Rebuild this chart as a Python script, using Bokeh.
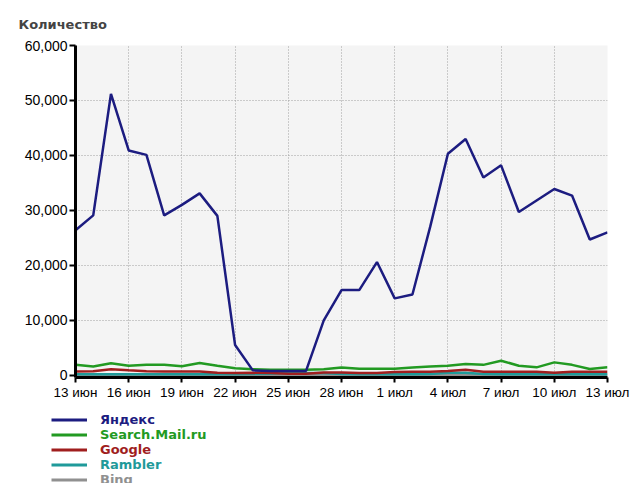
from bokeh.plotting import figure
from bokeh.layouts import column
from bokeh.models import Range1d, FixedTicker, NumeralTickFormatter, Legend, LegendItem
from bokeh.embed import file_html
from bokeh.resources import INLINE

# ---- data ----
tick_days = [0, 3, 6, 9, 12, 15, 18, 21, 24, 27, 30]
tick_labels = ["13 июн", "16 июн", "19 июн", "22 июн", "25 июн", "28 июн",
               "1 июл", "4 июл", "7 июл", "10 июл", "13 июл"]
days = list(range(31))

yandex = [26400, 29100, 51200, 40900, 40100, 29100, 31000, 33100, 29000, 5500,
          900, 800, 800, 800, 10000, 15500, 15500, 20600, 14000, 14700,
          27000, 40300, 43000, 36000, 38200, 29700, 31800, 33900, 32700, 24700, 26000]
mail = [1900, 1600, 2200, 1750, 1900, 1900, 1650, 2250, 1750, 1300,
        1100, 1000, 1000, 1000, 1100, 1400, 1200, 1200, 1200, 1400,
        1600, 1750, 2050, 1900, 2650, 1750, 1450, 2350, 1900, 1150, 1450]
google = [700, 750, 1100, 900, 750, 700, 700, 700, 450, 400,
          450, 400, 300, 300, 500, 500, 400, 400, 600, 650,
          650, 800, 1000, 650, 650, 650, 650, 450, 650, 650, 650]
rambler = [200, 200, 200, 200, 200, 200, 200, 200, 200, 200,
           250, 300, 400, 400, 400, 250, 200, 200, 200, 200,
           250, 450, 450, 250, 200, 200, 200, 200, 200, 200, 200]
bing = [100] * 31

series_names = ["Яндекс", "Search.Mail.ru", "Google", "Rambler", "Bing"]
series_values = [yandex, mail, google, rambler, bing]
series_colors = ["#1c1c80", "#229a22", "#a01e1e", "#1f9a9a", "#909090"]

# ---- main chart ----
p = figure(frame_width=532, frame_height=332,
           x_range=Range1d(0, 30), y_range=Range1d(-400, 60000),
           output_backend="svg", toolbar_location=None,
           min_border_left=75, min_border_right=30,
           min_border_top=45, min_border_bottom=23)
p.background_fill_color = "#f4f4f4"
p.border_fill_color = "white"
p.outline_line_color = None

p.title.text = "Количество"
p.title.text_font = "DejaVu Sans"
p.title.text_font_style = "bold"
p.title.text_font_size = "13px"
p.title.align = "left"
p.title.offset = -57
p.title.standoff = 28

for ax in (p.xaxis[0], p.yaxis[0]):
    ax.axis_line_color = "black"
    ax.axis_line_width = 3
    ax.major_tick_line_color = "black"
    ax.major_tick_line_width = 2
    ax.minor_tick_line_color = None
    ax.major_tick_in = 0
    ax.major_label_text_font = "Liberation Sans"
    ax.major_label_text_color = "black"

p.xaxis.ticker = FixedTicker(ticks=tick_days)
p.xaxis.major_label_overrides = {d: l for d, l in zip(tick_days, tick_labels)}
p.xaxis.major_tick_out = 5
p.xaxis.major_label_standoff = 2
p.xaxis.major_label_text_font_size = "13.5px"

p.yaxis.ticker = FixedTicker(ticks=[0, 10000, 20000, 30000, 40000, 50000, 60000])
p.yaxis.formatter = NumeralTickFormatter(format="0,0")
p.yaxis.major_tick_out = 6
p.yaxis.major_label_standoff = 2
p.yaxis.major_label_text_font_size = "14px"

for g in (p.xgrid[0], p.ygrid[0]):
    g.grid_line_color = "#a0a0a0"
    g.grid_line_dash = "1 2"
    g.grid_line_width = 1
p.xgrid.ticker = FixedTicker(ticks=tick_days)
p.ygrid.ticker = FixedTicker(ticks=[10000, 20000, 30000, 40000, 50000, 60000])

for name, vals, col in reversed(list(zip(series_names, series_values, series_colors))):
    p.line(days, vals, line_color=col, line_width=2.5)

# ---- legend strip (own figure, so the legend is not clipped) ----
lf = figure(frame_width=637, frame_height=83,
            x_range=Range1d(0, 1), y_range=Range1d(0, 1),
            x_axis_type=None, y_axis_type=None,
            output_backend="svg", toolbar_location=None,
            min_border=0)
lf.grid.visible = False
lf.outline_line_color = None
lf.background_fill_color = "white"
lf.border_fill_color = "white"

for i, (name, col) in enumerate(zip(series_names, series_colors)):
    # proxy renderer placed outside the visible range; only its legend swatch shows
    r = lf.line(x=[-10, -9], y=[-10, -9], line_color=col, line_width=3)
    lg = Legend(items=[LegendItem(label=name, renderers=[r])],
                location=(51, int(round(58.5 - 15.25 * i))),
                padding=0, margin=0, spacing=0,
                glyph_width=36, glyph_height=15, label_height=15,
                label_standoff=13,
                label_text_font="DejaVu Sans", label_text_font_style="bold",
                label_text_font_size="13px", label_text_color=col,
                border_line_color=None, background_fill_alpha=0)
    lf.add_layout(lg, "center")

layout = column(p, lf, spacing=0)
open("out.html", "w").write(file_html(layout, INLINE))
